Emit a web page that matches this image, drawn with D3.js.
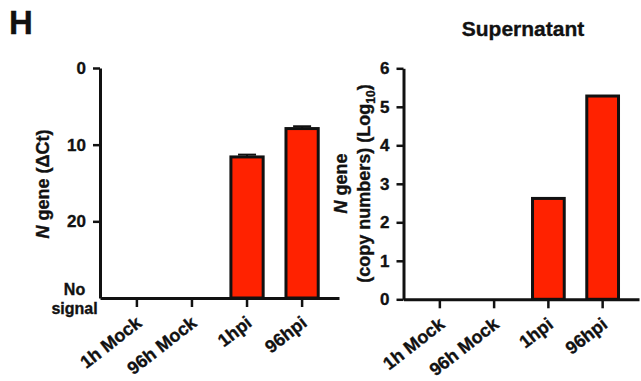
<!DOCTYPE html>
<html>
<head>
<meta charset="utf-8">
<script src="https://cdn.jsdelivr.net/npm/d3@7"></script>
<style>
  body { margin: 0; background: #fff; }
  svg { display: block; }
  text { font-family: "Liberation Sans", Arial, Helvetica, sans-serif; font-weight: bold; fill: #111;
         stroke: #111; stroke-width: 0.35px; }
  .axis path, .axis line { stroke: #111; }
</style>
</head>
<body>
<div id="chart"></div>
<script>
// groups on the x axis (same for both panels)
const categories = ['1h Mock', '96h Mock', '1hpi', '96hpi'];

// left panel: N gene delta Ct (null = no signal)
const deltaCt = [null, null, 11.6, 7.9];
const deltaCtErr = [0, 0, 0.3, 0.3];
const ctTicks = [0, 10, 20, 30];
const ctTickLabels = ['0', '10', '20', 'No signal'];

// right panel: supernatant copy numbers, log10
const copyLog10 = [null, null, 2.62, 5.28];
const copyTicks = [0, 1, 2, 3, 4, 5, 6];

const width = 641, height = 381;
const barFill = '#ff2200';

const svg = d3.select('#chart').append('svg')
    .attr('width', width)
    .attr('height', height);

// panel letter
svg.append('text')
    .attr('x', 9)
    .attr('y', 34)
    .style('font-size', '33px')
    .text('H');

function drawPanel(cfg) {
  const g = svg.append('g');

  const x = d3.scaleBand()
      .domain(categories)
      .range(cfg.xRange)
      .paddingInner(0.36)
      .paddingOuter(0.35);

  const y = d3.scaleLinear()
      .domain(cfg.yDomain)
      .range(cfg.yRange);

  const rows = categories.map((c, i) => ({cat: c, v: cfg.values[i], err: cfg.errors ? cfg.errors[i] : 0}))
      .filter(d => d.v != null);

  // bars
  g.selectAll('.bar')
    .data(rows)
    .join('rect')
      .attr('class', 'bar')
      .attr('x', d => x(d.cat) + 1.5)
      .attr('width', x.bandwidth() - 3)
      .attr('y', d => Math.min(y(d.v), y(cfg.base)))
      .attr('height', d => Math.abs(y(cfg.base) - y(d.v)))
      .attr('fill', barFill)
      .attr('stroke', '#111')
      .attr('stroke-width', 3);

  // error caps (only drawn upward, like the original)
  const errRows = rows.filter(d => d.err > 0);
  g.selectAll('.err')
    .data(errRows)
    .join('line')
      .attr('class', 'err')
      .attr('x1', d => x(d.cat) + x.bandwidth() / 2)
      .attr('x2', d => x(d.cat) + x.bandwidth() / 2)
      .attr('y1', d => y(d.v))
      .attr('y2', d => y(d.v - d.err))
      .attr('stroke', '#111')
      .attr('stroke-width', 2);
  g.selectAll('.cap')
    .data(errRows)
    .join('line')
      .attr('class', 'cap')
      .attr('x1', d => x(d.cat) + x.bandwidth() / 2 - 9)
      .attr('x2', d => x(d.cat) + x.bandwidth() / 2 + 9)
      .attr('y1', d => y(d.v - d.err))
      .attr('y2', d => y(d.v - d.err))
      .attr('stroke', '#111')
      .attr('stroke-width', 2);

  // y axis
  const yAxisG = g.append('g')
      .attr('class', 'axis y-axis')
      .attr('transform', `translate(${cfg.xRange[0]},0)`)
      .call(d3.axisLeft(y)
        .tickValues(cfg.ticks)
        .tickFormat((d, i) => cfg.tickLabels ? cfg.tickLabels[i] : d)
        .tickSize(7)
        .tickPadding(7)
        .tickSizeOuter(0));
  yAxisG.select('.domain').attr('stroke-width', 3);
  yAxisG.selectAll('.tick line').attr('stroke-width', 2.5);
  yAxisG.selectAll('.tick text').style('font-size', '17px').attr('fill', '#111');

  // x axis at the bottom of the plot
  const xAxisG = g.append('g')
      .attr('class', 'axis x-axis')
      .attr('transform', `translate(0,${cfg.xAxisY})`)
      .call(d3.axisBottom(x).tickSize(9).tickSizeOuter(0));
  xAxisG.select('.domain').attr('stroke-width', 3);
  xAxisG.selectAll('.tick line').attr('stroke-width', 2.5);
  xAxisG.selectAll('.tick text')
      .style('font-size', '18px')
      .style('text-anchor', 'end')
      .attr('fill', '#111')
      .attr('x', 0)
      .attr('y', 0)
      .attr('dy', 0)
      .attr('transform', 'translate(6,27) rotate(-38)');

  return {g, x, y, yAxisG};
}

// ---- left panel ----
const left = drawPanel({
  xRange: [100, 339],
  yDomain: [0, 30],
  yRange: [68, 298],
  xAxisY: 298,
  base: 30,
  values: deltaCt,
  errors: deltaCtErr,
  ticks: ctTicks,
  tickLabels: ctTickLabels
});

// "No signal" sits on the baseline as a two-line label, no tick mark
const noSig = left.yAxisG.selectAll('.tick').filter(d => d === 30);
noSig.select('line').remove();
noSig.select('text')
    .text(null)
    .attr('x', -25.5)
    .attr('dy', null)
    .style('font-size', '16px')
    .style('text-anchor', 'middle')
    .call(t => {
      t.append('tspan').attr('x', -25.5).attr('y', -4).text('No');
      t.append('tspan').attr('x', -25.5).attr('y', 15).text('signal');
    });

svg.append('text')
    .attr('transform', 'translate(49,184) rotate(-90)')
    .style('font-size', '18px')
    .style('text-anchor', 'middle')
    .call(t => {
      t.append('tspan').style('font-style', 'italic').text('N');
      t.append('tspan').text(' gene (\u0394Ct)');
    });

// ---- right panel ----
drawPanel({
  xRange: [403.5, 639],
  yDomain: [0, 6],
  yRange: [299.3, 68.3],
  xAxisY: 299.3,
  base: 0,
  values: copyLog10,
  ticks: copyTicks
});

svg.append('text')
    .attr('x', 523)
    .attr('y', 36)
    .style('font-size', '21px')
    .style('text-anchor', 'middle')
    .text('Supernatant');

svg.append('text')
    .attr('transform', 'translate(347,183.5) rotate(-90)')
    .style('font-size', '18px')
    .style('text-anchor', 'middle')
    .call(t => {
      t.append('tspan').style('font-style', 'italic').text('N');
      t.append('tspan').text(' gene');
    });

svg.append('text')
    .attr('transform', 'translate(370,183.5) rotate(-90)')
    .style('font-size', '18px')
    .style('text-anchor', 'middle')
    .call(t => {
      t.append('tspan').text('(copy numbers) (Log');
      t.append('tspan').attr('dy', 5).style('font-size', '12px').text('10');
      t.append('tspan').attr('dy', -5).text(')');
    });
</script>
</body>
</html>
